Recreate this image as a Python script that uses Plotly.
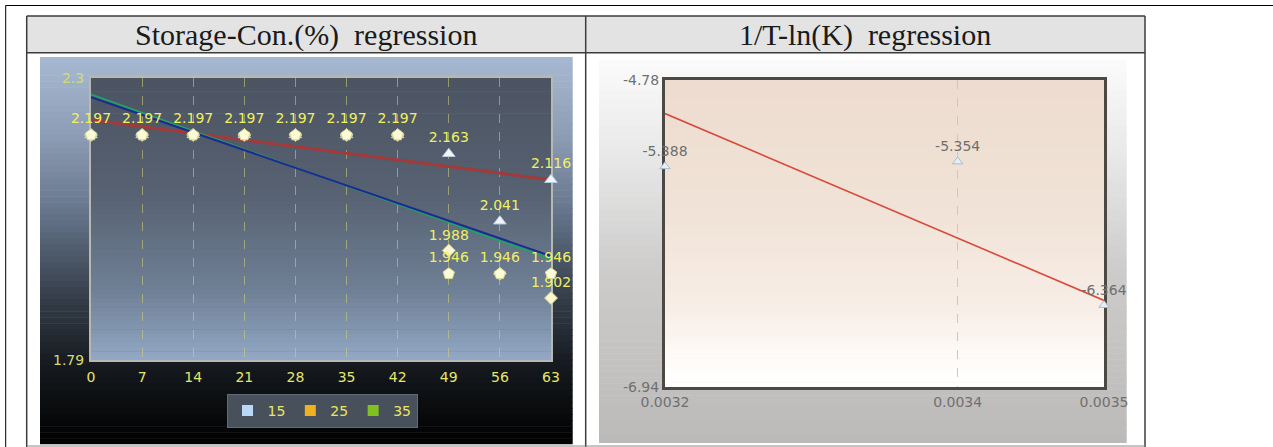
import numpy as np
import plotly.graph_objects as go

W, H = 1273, 447

# ---------------- data ----------------
days = [0, 7, 14, 21, 28, 35, 42, 49, 56, 63]
con_15 = [2.197, 2.197, 2.197, 2.197, 2.197, 2.197, 2.197, 2.163, 2.041, 2.116]
con_25 = [2.197, 2.197, 2.197, 2.197, 2.197, 2.197, 2.197, 1.946, 1.946, 1.946]
con_35 = [2.197, 2.197, 2.197, 2.197, 2.197, 2.197, 2.197, 1.988, 1.946, 1.902]
series_names = ["15", "25", "35"]
y1_ticks = [1.79, 2.3]

temps_c = [35, 25, 15]
ln_k = [-5.388, -5.354, -6.364]
x2_ticks = [0.0032, 0.0034, 0.0035]
y2_ticks = [-6.94, -4.78]

titles = ["Storage-Con.(%)\u00a0 regression", "1/T-ln(K)\u00a0 regression"]

# ---------------- helpers ----------------
def PX(px):
    return px / W

def PY(py):
    return 1 - py / H

def hex2rgb(h):
    h = h.lstrip("#")
    return [int(h[i:i + 2], 16) for i in (0, 2, 4)]

def interp(stops, t):
    for (t0, c0), (t1, c1) in zip(stops[:-1], stops[1:]):
        if t0 <= t <= t1:
            f = (t - t0) / (t1 - t0) if t1 > t0 else 0
            a, b = hex2rgb(c0), hex2rgb(c1)
            return "rgb(%d,%d,%d)" % tuple(round(a[i] + (b[i] - a[i]) * f) for i in range(3))
    return stops[-1][1]

shapes = []

def gradient(x0, y0, x1, y1, stops, n=64):
    for i in range(n):
        t0, t1 = i / n, (i + 1) / n
        ya = y0 + (y1 - y0) * t0
        yb = min(y1, y0 + (y1 - y0) * t1 + 0.6)
        shapes.append(dict(type="rect", xref="paper", yref="paper",
                           x0=PX(x0), x1=PX(x1), y0=PY(yb), y1=PY(ya),
                           fillcolor=interp(stops, (t0 + t1) / 2),
                           line=dict(width=0), layer="below"))

# table header background
shapes.append(dict(type="rect", xref="paper", yref="paper", x0=PX(26.7), x1=PX(1145), y0=PY(52.7), y1=PY(16),
                   fillcolor="#e3e3e3", line=dict(width=0), layer="below"))

# left chart backgrounds
gradient(40, 57, 572.7, 444.3, [(0, "#a7b9d2"), (0.2, "#8d9db5"), (0.4, "#66758b"),
                                (0.62, "#353e4a"), (0.8, "#15191e"), (1, "#000000")])
L_x0, L_x1, L_y0, L_y1 = 91, 551, 78, 360
gradient(L_x0, L_y0, L_x1, L_y1, [(0, "#4c5462"), (0.4, "#566171"), (0.75, "#6f7f95"), (1, "#92a8c4")])

# right chart backgrounds
gradient(599, 60, 1126.7, 443, [(0, "#fbfbfb"), (0.25, "#e8e8e8"), (0.55, "#cdcccb"), (1, "#bcbab8")])
R_x0, R_x1, R_y0, R_y1 = 665, 1104, 80, 387
gradient(R_x0, R_y0, R_x1, R_y1, [(0, "#eddccf"), (0.45, "#f1e3d8"), (0.75, "#f8eee7"),
                                  (0.92, "#fefcfa"), (1, "#ffffff")])

def line(x0, y0, x1, y1, color="#3c3c3c", width=1.5):
    shapes.append(dict(type="line", xref="paper", yref="paper", x0=PX(x0), x1=PX(x1),
                       y0=PY(y0), y1=PY(y1), line=dict(color=color, width=width), layer="above"))

# outer page lines
line(5.5, 5.5, 1273, 5.5, "#000000", 1)
line(5.7, 5.5, 5.7, 447, "#000000", 1)
# table borders
line(26.7, 16, 1145, 16)
line(26.7, 52.7, 1145, 52.7)
line(26.7, 16, 26.7, 447)
line(585.7, 16, 585.7, 447)
line(1145, 16, 1145, 447)
line(26.7, 446, 1145, 446, "#8a8a8a", 1)

fig = go.Figure()

# ---------------- left chart ----------------
series = [("15", con_15, "triangle-up", 11, "#eef6ff", "#b8cce0", "#a23a3a", 3),
          ("35", con_35, "diamond", 10, "#fbf8d0", "#d0c890", "#22a066", 2),
          ("25", con_25, "pentagon", 12, "#fbfbd8", "#d8d890", "#1c2a92", 2)]

# regression lines
for name, vals, sym, size, fc, lc, regc, regw in series:
    k, b = np.polyfit(days, vals, 1)
    xs = [days[0], days[-1]]
    fig.add_trace(go.Scatter(x=xs, y=[k * x + b for x in xs], mode="lines",
                             line=dict(color=regc, width=regw), showlegend=False,
                             hoverinfo="skip", xaxis="x", yaxis="y", cliponaxis=False))

# label only the top-most marker at each spot
seen = set()
texts = {}
for name, vals, *_ in reversed(series):
    t = []
    for d, v in zip(days, vals):
        if (d, v) in seen:
            t.append("")
        else:
            seen.add((d, v))
            t.append("%.3f" % v)
    texts[name] = t

for name, vals, sym, size, fc, lc, regc, regw in series:
    fig.add_trace(go.Scatter(
        x=days, y=vals, mode="markers+text", name=name, showlegend=False,
        marker=dict(symbol=sym, size=size, color=fc, line=dict(color=lc, width=1)),
        text=texts[name], textposition="top center",
        textfont=dict(family="DejaVu Sans", size=14, color="#f0f060"),
        cliponaxis=False, xaxis="x", yaxis="y"))

legend_colors = {"15": "#b8d8f8", "25": "#f0b020", "35": "#80c020"}
for name in series_names:
    fig.add_trace(go.Scatter(x=[None], y=[None], mode="markers", name=name,
                             marker=dict(symbol="square", size=11, color=legend_colors[name]),
                             xaxis="x", yaxis="y"))

# ---------------- right chart ----------------
inv_t = [1 / (t + 273.15) for t in temps_c]
x_plot = [round(v, 4) for v in inv_t]
k2, b2 = np.polyfit(inv_t, ln_k, 1)
xr = [x2_ticks[0], x2_ticks[-1]]
fig.add_trace(go.Scatter(x=xr, y=[k2 * x + b2 for x in xr], mode="lines",
                         line=dict(color="#d84a3a", width=1.6), showlegend=False,
                         hoverinfo="skip", xaxis="x2", yaxis="y2", cliponaxis=False))
fig.add_trace(go.Scatter(x=x_plot, y=ln_k, mode="markers+text", showlegend=False,
                         marker=dict(symbol="triangle-up", size=9, color="#e6eff7",
                                     line=dict(color="#a8bccc", width=1)),
                         text=["%.3f" % v for v in ln_k], textposition="top center",
                         textfont=dict(family="DejaVu Sans", size=14, color="#6e6e6e"),
                         cliponaxis=False, xaxis="x2", yaxis="y2"))

annotations = [
    dict(text=titles[0], xref="paper", yref="paper", x=PX(306), y=PY(35), showarrow=False,
         xanchor="center", yanchor="middle", font=dict(family="Liberation Serif", size=30, color="#1a1a1a")),
    dict(text=titles[1], xref="paper", yref="paper", x=PX(865), y=PY(35), showarrow=False,
         xanchor="center", yanchor="middle", font=dict(family="Liberation Serif", size=30, color="#1a1a1a")),
]

fig.update_layout(
    width=W, height=H, margin=dict(l=0, r=0, t=0, b=0, autoexpand=False),
    paper_bgcolor="#ffffff", plot_bgcolor="rgba(0,0,0,0)",
    shapes=shapes, annotations=annotations,
    showlegend=True,
    legend=dict(orientation="h", x=PX(322), y=PY(394), xanchor="center", yanchor="top",
                bgcolor="#48505c", bordercolor="#626a7a", borderwidth=1,
                font=dict(family="DejaVu Sans", size=14, color="#e8e860"),
                itemwidth=30, tracegroupgap=0),
    xaxis=dict(domain=[PX(L_x0), PX(L_x1)], range=[days[0], days[-1]], anchor="y",
               tickvals=days, ticktext=[str(d) for d in days], ticks="", automargin=False,
               tickfont=dict(family="DejaVu Sans", size=14, color="#e6e66a"),
               showgrid=True, gridcolor="rgba(210,210,120,0.55)", griddash="dash", gridwidth=1,
               showline=True, linecolor="#b8b8b2", linewidth=2, mirror=True, zeroline=False,
               ticklabelstandoff=3, layer="below traces"),
    yaxis=dict(domain=[PY(L_y1), PY(L_y0)], range=[y1_ticks[0], y1_ticks[-1]], anchor="x",
               tickvals=y1_ticks, ticktext=[str(v) for v in y1_ticks], ticks="", automargin=False,
               tickfont=dict(family="DejaVu Sans", size=14, color="#d4dc70"),
               showgrid=False, zeroline=False, showline=True, linecolor="#b8b8b2", linewidth=2,
               mirror=True, ticklabelstandoff=2, layer="below traces"),
    xaxis2=dict(domain=[PX(R_x0), PX(R_x1)], range=[x2_ticks[0], x2_ticks[-1]], anchor="y2",
                tickvals=x2_ticks, ticktext=["%.4f" % v for v in x2_ticks], ticks="", automargin=False,
                tickfont=dict(family="DejaVu Sans", size=14, color="#707070"),
                showgrid=True, gridcolor="#c8c8c8", griddash="dash", gridwidth=1,
                showline=True, linecolor="#4c4844", linewidth=3, mirror=True, zeroline=False,
                layer="below traces"),
    yaxis2=dict(domain=[PY(R_y1), PY(R_y0)], range=[y2_ticks[0], y2_ticks[-1]], anchor="x2",
                tickvals=y2_ticks, ticktext=["%.2f" % v for v in y2_ticks], ticks="", automargin=False,
                tickfont=dict(family="DejaVu Sans", size=14, color="#707070"),
                showgrid=False, zeroline=False, showline=True, linecolor="#4c4844", linewidth=3,
                mirror=True, layer="below traces"),
)

fig.write_html("out.html")
